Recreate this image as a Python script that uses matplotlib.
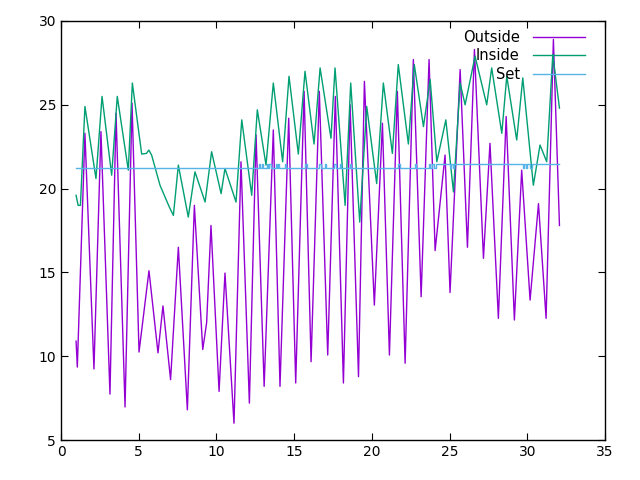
import matplotlib
matplotlib.use("Agg")
import matplotlib.pyplot as plt

outside_x = [0.97, 1.05, 1.54, 2.12, 2.57, 3.15, 3.54, 4.12, 4.57, 5.02, 5.66, 6.24, 6.56,
             7.05, 7.55, 8.13, 8.58, 9.12, 9.37, 9.65, 10.17, 10.55, 11.13, 11.58, 12.12,
             12.55, 13.07, 13.66, 14.09, 14.65, 15.1, 15.64, 16.09, 16.62, 17.16, 17.65,
             18.17, 18.6, 19.14, 19.52, 20.16, 20.68, 21.13, 21.64, 22.14, 22.67, 23.17,
             23.68, 24.07, 24.71, 25.03, 25.68, 26.15, 26.6, 27.18, 27.6, 28.14, 28.64,
             29.17, 29.64, 30.18, 30.72, 31.21, 31.68, 32.07]
outside_y = [10.9, 9.35, 23.3, 9.24, 23.4, 7.74, 24.5, 6.97, 25.1, 10.25, 15.1, 10.2, 13.0,
             8.6, 16.5, 6.8, 19.0, 10.4, 12.0, 17.8, 7.9, 14.96, 6.0, 21.6, 7.2,
             23.2, 8.2, 23.5, 8.2, 24.2, 8.4, 25.8, 9.67, 25.8, 10.07, 25.5,
             8.4, 25.0, 8.78, 26.4, 13.05, 23.9, 10.07, 25.8, 9.58, 27.7, 13.55,
             27.7, 16.3, 22.0, 13.8, 27.1, 16.5, 28.3, 15.84, 22.7, 12.26, 24.3,
             12.16, 21.1, 13.35, 19.1, 12.26, 28.9, 17.8]

inside_x = [0.97, 1.1, 1.25, 1.54, 2.25, 2.64, 3.26, 3.62, 4.33, 4.59, 5.19, 5.5, 5.65, 5.83,
            6.37, 6.97, 7.23, 7.55, 8.19, 8.62, 9.27, 9.69, 10.3, 10.55, 11.26, 11.63,
            12.27, 12.63, 13.19, 13.66, 14.26, 14.67, 15.27, 15.7, 16.28, 16.67, 17.37,
            17.63, 18.28, 18.64, 19.22, 19.67, 20.31, 20.74, 21.32, 21.7, 22.35, 22.73,
            23.32, 23.75, 24.18, 24.76, 25.25, 25.68, 26.0, 26.64, 27.39, 27.71, 28.36,
            28.68, 29.32, 29.71, 30.39, 30.82, 31.25, 31.64, 32.07]
inside_y = [19.6, 19.0, 19.0, 24.9, 20.6, 25.5, 20.8, 25.5, 21.1, 26.3, 22.06, 22.1, 22.3, 22.0,
            20.2, 18.9, 18.4, 21.4, 18.3, 21.0, 19.2, 22.2, 19.7, 21.2, 19.2, 24.1,
            19.6, 24.7, 21.4, 26.3, 21.6, 26.7, 22.06, 27.0, 22.66, 27.2, 23.0,
            27.2, 19.0, 26.3, 18.0, 24.9, 20.3, 26.3, 22.1, 27.4, 22.66, 27.4,
            23.7, 26.5, 21.6, 24.1, 19.8, 26.3, 25.0, 27.9, 25.0, 27.2, 23.3,
            26.7, 22.9, 26.6, 20.2, 22.6, 21.6, 28.0, 24.8]

set_x = [0.97, 12.75, 12.82, 12.95, 13.02, 13.23, 13.3, 13.41, 13.48, 13.83, 13.9, 13.98,
         14.05, 14.41, 14.48, 15.7, 15.8, 16.62, 16.72, 16.99, 17.06, 17.57, 17.67, 17.95,
         18.02, 18.6, 18.67, 21.71, 21.78, 22.78, 22.85, 23.7, 23.77, 23.9, 23.97, 24.1,
         25.0, 25.1, 25.2, 25.3, 29.7, 29.8, 29.9, 30.0, 30.2, 30.3, 32.07]
set_y = [21.25, 21.45, 21.25, 21.45, 21.25, 21.45, 21.25, 21.45, 21.25, 21.45, 21.25, 21.45,
         21.25, 21.45, 21.25, 21.45, 21.25, 21.45, 21.25, 21.45, 21.25, 21.45, 21.25, 21.45,
         21.25, 21.45, 21.25, 21.45, 21.25, 21.45, 21.25, 21.45, 21.25, 21.45, 21.25, 21.45,
         21.25, 21.45, 21.25, 21.45, 21.25, 21.45, 21.25, 21.45, 21.25, 21.45, 21.45]

series_labels = ["Outside", "Inside", "Set"]
colors = ["#9400d3", "#009e73", "#56b4e9"]

fig = plt.figure(figsize=(6.4, 4.8), dpi=100)
ax = fig.add_axes([61/640, 1-440/480, (605-61)/640, (440-21)/480])

ax.plot(outside_x, outside_y, color=colors[0], lw=1.0, label=series_labels[0])
ax.plot(inside_x, inside_y, color=colors[1], lw=1.0, label=series_labels[1])
ax.plot(set_x, set_y, color=colors[2], lw=1.0, drawstyle="steps-post", label=series_labels[2])

ax.set_xlim(0, 35)
ax.set_ylim(5, 30)
ax.set_xticks(range(0, 36, 5))
ax.set_yticks(range(5, 31, 5))
ax.tick_params(direction="in", top=True, right=True, length=5, width=0.8,
               labelsize=10, colors="black")
for s in ax.spines.values():
    s.set_linewidth(1.0)
    s.set_color("black")

leg = ax.legend(loc="upper right", bbox_to_anchor=(0.98, 1.0), frameon=False,
                markerfirst=False, handlelength=3.6, labelspacing=0.25,
                fontsize=10.5, borderaxespad=0.2, handletextpad=0.9)
for t in leg.get_texts():
    t.set_ha("right")

fig.savefig("out.png", dpi=100)
